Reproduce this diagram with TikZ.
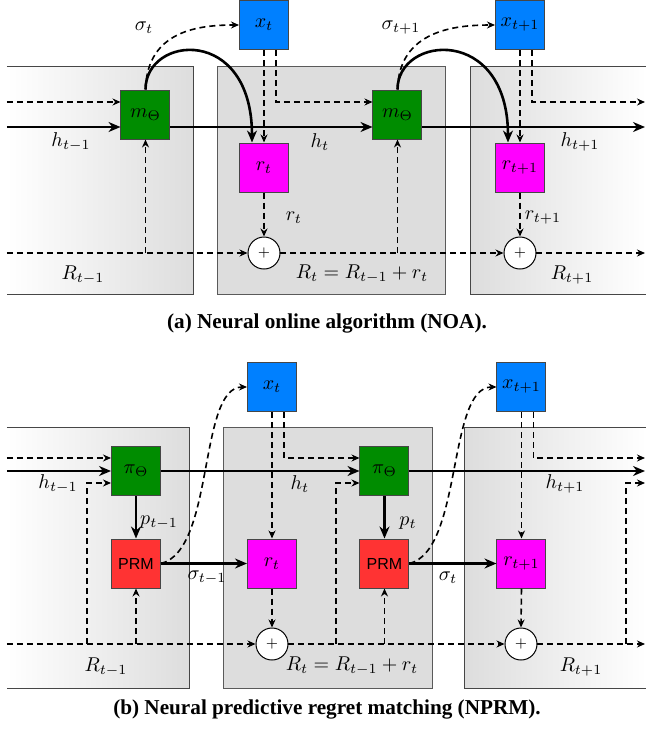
\documentclass[tikz,border=0pt]{standalone}
\usepackage{fontspec}
\newfontfamily\capfont{Liberation Serif}
\newfontfamily\prmfont{Liberation Sans}
\usetikzlibrary{arrows.meta}
\definecolor{ngreen}{RGB}{0,140,0}
\definecolor{nblue}{RGB}{0,128,255}
\definecolor{nmag}{RGB}{255,0,255}
\definecolor{nred}{RGB}{255,51,51}
\definecolor{pgray}{RGB}{221,221,221}
\definecolor{pborder}{RGB}{70,70,70}
\definecolor{mborder}{RGB}{90,90,90}
\tikzset{
  box/.style={draw=pborder, line width=0.5pt, minimum size=24.5pt, inner sep=0pt},
  sumc/.style={circle, draw=black, line width=0.5pt, fill=white, minimum size=16pt, inner sep=0pt, font=\scriptsize},
  hline/.style={line width=1.3pt, -{Stealth[length=6pt,width=5pt]}},
  dline/.style={line width=0.8pt, dash pattern=on 3pt off 2pt, -{Stealth[length=4pt,width=3.5pt]}},
  pedge/.style={draw=pborder, line width=0.5pt},
  medge/.style={draw=mborder, line width=0.5pt},
  lbl/.style={inner sep=0pt},
  captext/.style={font=\capfont\bfseries\fontsize{10.6}{12}\selectfont, inner sep=0pt}
}
\begin{document}
\begin{tikzpicture}[x=0.5pt,y=-0.5pt]
\useasboundingbox (0,0) rectangle (646,736);
% ---------- (a) panels
\path[left color=white, right color=pgray] (7,66) rectangle (194,294);
\draw[pedge] (7,66) -| (194,294) -- (7,294);
\path[fill=pgray] (218,66) rectangle (446,294);
\draw[medge] (218,66) rectangle (446,294);
\path[left color=pgray, right color=white] (471,66) rectangle (646,294);
\draw[pedge] (646,66) -| (471,294) -- (646,294);
% ---------- (a) nodes
\node[box,fill=ngreen] (ma) at (145.5,114.5) {$m_\Theta$};
\node[box,fill=nblue] (xa) at (264,25) {$x_t$};
\node[box,fill=nmag] (ra) at (264,167.5) {$r_t$};
\node[sumc] (sa) at (264,253) {$+$};
\node[box,fill=ngreen] (mb) at (397.5,114.5) {$m_\Theta$};
\node[box,fill=nblue] (xb) at (520,25) {$x_{t+1}$};
\node[box,fill=nmag] (rb) at (520,167.5) {$r_{t+1}$};
\node[sumc] (sb) at (520,253) {$+$};
\coordinate (aL1) at (7,102);
\coordinate (aL2) at (7,127);
\coordinate (aL3) at (7,253);
\coordinate (aE1) at (645,102);
\coordinate (aE2) at (645,127);
\coordinate (aE3) at (645,253);
% ---------- (a) connectors
\draw[dline] (aL1) -- (aL1 -| ma.west);
\draw[hline] (aL2) -- (aL2 -| ma.west);
\draw[hline] (ma.east |- aL2) -- (mb.west |- aL2);
\draw[hline] (mb.east |- aL2) -- (aE2);
\draw[dline] (aL3) -- (sa.west);
\draw[dline] (sa.east) -- (sb.west);
\draw[dline] (sb.east) -- (aE3);
\draw[dline] (ma.south |- aL3) -- (ma.south);
\draw[dline] (mb.south |- aL3) -- (mb.south);
\draw[dline] (xa.south) -- (ra.north);
\draw[dline] (xb.south) -- (rb.north);
\draw[dline] ([xshift=6pt]xa.south) |- (mb.west |- aL1);
\draw[dline] ([xshift=6pt]xb.south) |- (aE1);
\draw[dline] (ra.south) -- (sa.north);
\draw[dline] (rb.south) -- (sb.north);
\draw[dline] (ma.north) .. controls (147,30) and (200,25) .. (xa.west);
\draw[dline] (mb.north) .. controls (399,30) and (456,25) .. (xb.west);
\draw[hline] (ma.north) .. controls (145.5,35) and (252,25) .. ([xshift=-6pt]ra.north);
\draw[hline] (mb.north) .. controls (397.5,35) and (508,25) .. ([xshift=-6pt]rb.north);
% ---------- (a) labels
\node[lbl] (la1) at (144,28) {$\sigma_t$};
\node[lbl] (la2) at (401,28) {$\sigma_{t+1}$};
\node[lbl] (la3) at (71,142) {$h_{t-1}$};
\node[lbl] (la4) at (320,142) {$h_t$};
\node[lbl] (la5) at (580,142) {$h_{t+1}$};
\node[lbl] (la6) at (294,218) {$r_t$};
\node[lbl] (la7) at (543,218) {$r_{t+1}$};
\node[lbl] (la8) at (83,275) {$R_{t-1}$};
\node[lbl] (la9) at (362,274) {$R_t = R_{t-1} + r_t$};
\node[lbl] (la10) at (572,275) {$R_{t+1}$};
\node[captext] (capa) at (327,323) {(a) Neural online algorithm (NOA).};
% ---------- (b) panels
\path[left color=white, right color=pgray] (7,427) rectangle (190,688);
\draw[pedge] (7,427) -| (190,688) -- (7,688);
\path[fill=pgray] (224,427) rectangle (433,688);
\draw[medge] (224,427) rectangle (433,688);
\path[left color=pgray, right color=white] (465,427) rectangle (646,688);
\draw[pedge] (646,427) -| (465,688) -- (646,688);
% ---------- (b) nodes
\node[box,fill=ngreen] (pa) at (136,471) {$\pi_\Theta$};
\node[box,fill=nred,font=\prmfont\footnotesize] (qa) at (136,563.5) {PRM};
\node[box,fill=nblue] (xc) at (272,387) {$x_t$};
\node[box,fill=nmag] (rc) at (272,563.5) {$r_t$};
\node[sumc] (sc) at (272,644) {$+$};
\node[box,fill=ngreen] (pb) at (384.5,471) {$\pi_\Theta$};
\node[box,fill=nred,font=\prmfont\footnotesize] (qb) at (384.5,563.5) {PRM};
\node[box,fill=nblue] (xd) at (521.5,387) {$x_{t+1}$};
\node[box,fill=nmag] (rd) at (521.5,563.5) {$r_{t+1}$};
\node[sumc] (sd) at (521,644) {$+$};
\coordinate (bL1) at (7,458);
\coordinate (bL2) at (7,471);
\coordinate (bL3) at (7,644);
\coordinate (bE1) at (645,458);
\coordinate (bE2) at (645,471);
\coordinate (bE3) at (645,644);
\coordinate (bE4) at (645,483);
\coordinate (bJ1) at (87,644);
\coordinate (bJ2) at (336,644);
\coordinate (bJ3) at (626,644);
% ---------- (b) connectors
\draw[dline] (bL1) -- (bL1 -| pa.west);
\draw[hline] (bL2) -- (pa.west);
\draw[hline] (pa.east) -- (pb.west);
\draw[hline] (pb.east) -- (bE2);
\draw[dline] (bL3) -- (sc.west);
\draw[dline] (sc.east) -- (sd.west);
\draw[dline] (sd.east) -- (bE3);
\draw[dline] (bJ1) |- (pa.west |- bE4);
\draw[dline] (bJ2) |- (pb.west |- bE4);
\draw[dline] (bJ3) |- (bE4);
\draw[dline] (qa.south |- bL3) -- (qa.south);
\draw[dline] (qb.south |- bL3) -- (qb.south);
\draw[hline] (pa.south) -- (qa.north);
\draw[hline] (pb.south) -- (qb.north);
\draw[hline] (qa.east) -- (rc.west);
\draw[hline] (qb.east) -- (rd.west);
\draw[dline] (xc.south) -- (rc.north);
\draw[dline] (xd.south) -- (rd.north);
\draw[dline] ([xshift=6pt]xc.south) |- (pb.west |- bL1);
\draw[dline] ([xshift=6pt]xd.south) |- (bE1);
\draw[dline] (rc.south) -- (sc.north);
\draw[dline] (rd.south) -- (sd.north);
\draw[dline] (qa.east) .. controls (215,550) and (198,387) .. (xc.west);
\draw[dline] (qb.east) .. controls (463,550) and (447,387) .. (xd.west);
% ---------- (b) labels
\node[lbl] (lb1) at (159,523) {$p_{t-1}$};
\node[lbl] (lb2) at (408,523) {$p_t$};
\node[lbl] (lb3) at (207,578) {$\sigma_{t-1}$};
\node[lbl] (lb4) at (448,578) {$\sigma_t$};
\node[lbl] (lb5) at (58,484) {$h_{t-1}$};
\node[lbl] (lb6) at (300,484) {$h_t$};
\node[lbl] (lb7) at (565,484) {$h_{t+1}$};
\node[lbl] (lb8) at (106,667) {$R_{t-1}$};
\node[lbl] (lb9) at (352,666) {$R_t = R_{t-1} + r_t$};
\node[lbl] (lb10) at (581,667) {$R_{t+1}$};
\node[captext] (capb) at (327,709) {(b) Neural predictive regret matching (NPRM).};
\end{tikzpicture}
\end{document}
